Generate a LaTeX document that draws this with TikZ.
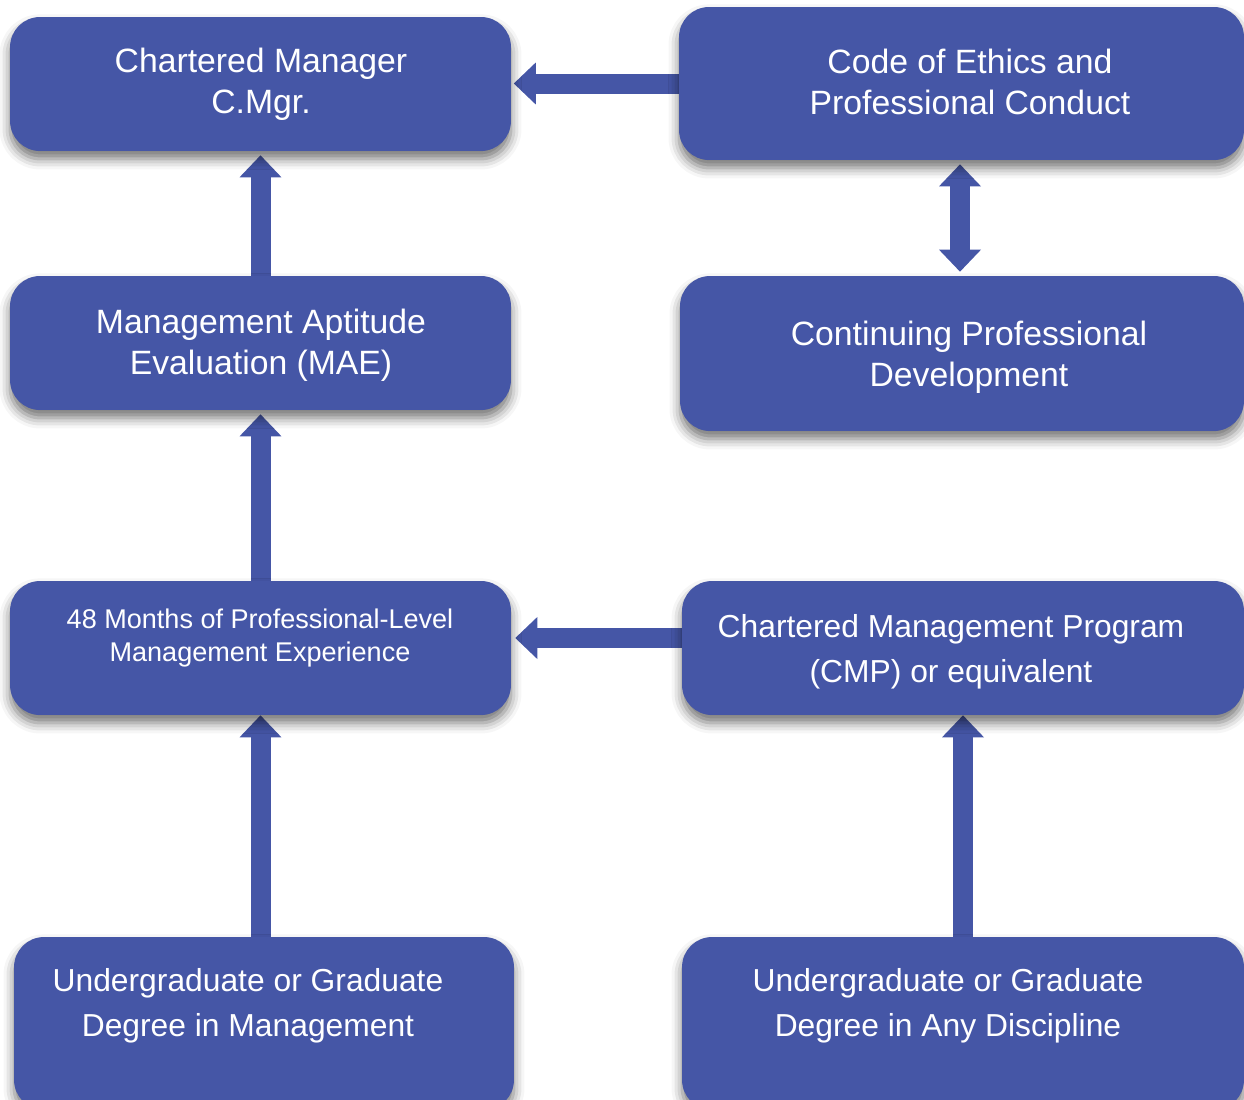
\documentclass[tikz,border=0pt]{standalone}
\usepackage{fontspec}
\setmainfont{Liberation Sans}
\usetikzlibrary{arrows.meta, shadows.blur, backgrounds}
\definecolor{stageblue}{RGB}{69,86,166}

\tikzset{
  stage/.style={draw=none, fill=stageblue, rounded corners=0.6cm, inner sep=0pt,
    blur shadow={shadow xshift=0pt, shadow yshift=-4.5pt, shadow blur radius=6pt, shadow opacity=55}},
  stagetext/.style={text=white, align=center, inner sep=0pt, font=\fontsize{19.2}{23.2}\selectfont},
  smalltext/.style={stagetext, font=\fontsize{15.4}{18.7}\selectfont},
  widetext/.style={stagetext, font=\fontsize{18.1}{25.5}\selectfont},
  flow/.style={draw=stageblue, line width=0.4cm,
    >={Triangle[width=0.84cm, length=0.44cm, line width=0pt]}, ->},
}

\begin{document}
\begin{tikzpicture}[x=0.02cm, y=-0.02cm]
  \useasboundingbox (0,0) rectangle (1244,1099);

  % left column
  \node[stage, minimum width=10.02cm, minimum height=2.68cm] (cmgr) at (260.5,84) {};
  \node[stage, minimum width=10.02cm, minimum height=2.68cm] (mae) at (260.5,343) {};
  \node[stage, minimum width=10.02cm, minimum height=2.68cm] (exp) at (260.5,648) {};
  \node[stage, minimum width=10.0cm, minimum height=3.46cm] (mgtdeg) at (264,1023.5) {};

  % right column
  \node[stage, minimum width=11.3cm, minimum height=3.06cm] (ethics) at (961.5,83.5) {};
  \node[stage, minimum width=11.28cm, minimum height=3.1cm] (cpd) at (962,353.5) {};
  \node[stage, minimum width=11.24cm, minimum height=2.68cm] (cmp) at (963,648) {};
  \node[stage, minimum width=11.24cm, minimum height=3.46cm] (anydeg) at (963,1023.5) {};

  % labels
  \node[stagetext] (cmgr-t) at (261,84) {Chartered Manager\\C.Mgr.};
  \node[stagetext] (mae-t) at (261,345) {Management Aptitude\\Evaluation (MAE)};
  \node[smalltext] (exp-t) at (260,638) {48 Months of Professional-Level\\Management Experience};
  \node[widetext] (mgtdeg-t) at (248,1006) {Undergraduate or Graduate\\Degree in Management};
  \node[stagetext] (ethics-t) at (970,82) {Code of Ethics and\\Professional Conduct};
  \node[stagetext] (cpd-t) at (969,357) {Continuing Professional\\Development};
  \node[widetext] (cmp-t) at (951,652) {Chartered Management Program\\(CMP) or equivalent};
  \node[widetext] (anydeg-t) at (948,1006) {Undergraduate or Graduate\\Degree in Any Discipline};

  % block arrows sit under the box shadows
  \begin{scope}[on background layer]
    \draw[flow, shorten >=0.05cm] (ethics.west) -- (ethics.west -| cmgr.east);
    \draw[flow, shorten >=0.08cm] (mae.north) -- (cmgr.south);
    \draw[flow, shorten >=0.08cm] (exp.north) -- (mae.south);
    \draw[flow] (exp.south |- mgtdeg.north) -- (exp.south);
    \draw[flow] (anydeg.north) -- (cmp.south);
    \draw[flow, shorten >=0.08cm] (cmp.west |- 0,638) -- (exp.east |- 0,638);
    \draw[flow, <->, shorten <=0.08cm, shorten >=0.08cm] (ethics.south -| 960,0) -- (cpd.north -| 960,0);
  \end{scope}
\end{tikzpicture}
\end{document}
